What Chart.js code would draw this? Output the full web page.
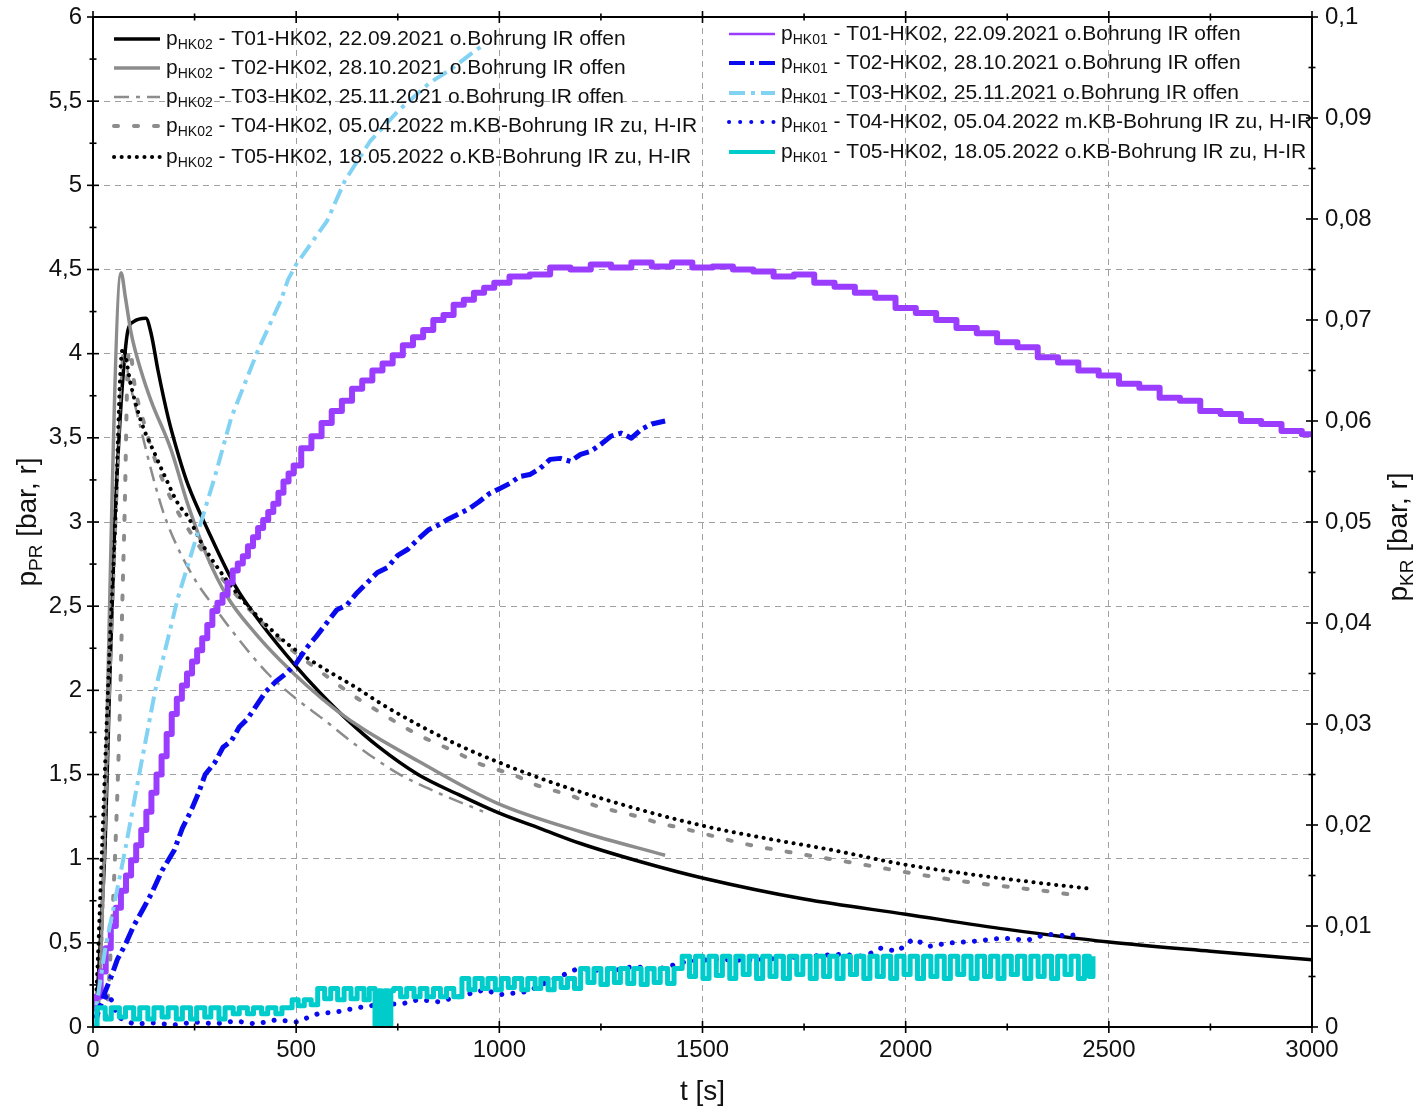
<!DOCTYPE html>
<html lang="de">
<head>
<meta charset="utf-8">
<title>Druckverlauf pHK01 / pHK02</title>
<script src="https://cdn.jsdelivr.net/npm/chart.js@4.4.1/dist/chart.umd.min.js"></script>
<style>
  html, body { margin: 0; padding: 0; background: #fff; }
  #chart { display: block; }
</style>
</head>
<body>
<canvas id="chart" width="1417" height="1111"></canvas>
<script>
// === Data: [t in s, p in bar] ===
// pHK02 -> left axis (p_PR)
const hk02T01 = [[0,0],[6,0.05],[20,0.6],[30,1.1],[40,1.95],[53,2.95],[64,3.5],[75,3.9],[86,4.14],[100,4.19],[130,4.21],[143,4.12],[160,3.9],[185,3.62],[210,3.4],[234,3.22],[283,2.95],[350,2.62],[413,2.4],[497,2.15],[561,1.98],[628,1.82],[700,1.67],[800,1.5],[900,1.38],[1000,1.27],[1100,1.18],[1200,1.09],[1350,0.98],[1500,0.885],[1750,0.76],[2000,0.67],[2250,0.58],[2500,0.505],[2750,0.45],[3000,0.4]];
const hk02T02 = [[0,0],[9,0.02],[69,4.48],[80,4.33],[94,4.12],[118,3.9],[143,3.72],[192,3.43],[234,3.1],[280,2.8],[332,2.55],[399,2.34],[460,2.18],[530,2.02],[600,1.88],[665,1.77],[800,1.58],[994,1.33],[1200,1.16],[1408,1.02]];
const hk02T03 = [[0,0],[12,0.05],[40,1.9],[60,3.2],[74,4.0],[91,3.82],[118,3.55],[153,3.22],[177,3.03],[210,2.84],[258,2.63],[300,2.49],[340,2.36],[430,2.1],[500,1.95],[566,1.83],[650,1.67],[748,1.51],[850,1.39],[960,1.28]];
const hk02T04 = [[0,0],[30,0],[34,0.08],[54,1.0],[66,1.87],[72,2.5],[78,3.07],[86,3.96],[92,4.02],[100,3.85],[130,3.55],[160,3.32],[200,3.1],[250,2.9],[300,2.72],[370,2.52],[460,2.3],[566,2.1],[652,1.95],[706,1.87],[760,1.79],[805,1.73],[896,1.63],[945,1.57],[994,1.53],[1043,1.49],[1088,1.44],[1181,1.37],[1231,1.32],[1290,1.28],[1341,1.25],[1395,1.21],[1452,1.18],[1501,1.15],[1600,1.09],[1711,1.04],[1809,1.0],[1907,0.96],[2023,0.91],[2158,0.86],[2264,0.83],[2368,0.8],[2424,0.78]];
const hk02T05 = [[0,0],[8,0.2],[22,1.05],[40,2.2],[54,2.95],[69,3.96],[75,4.03],[79,4.0],[91,3.84],[118,3.6],[153,3.4],[177,3.27],[209,3.11],[234,3.03],[266,2.88],[315,2.7],[374,2.52],[430,2.38],[487,2.26],[561,2.14],[645,2.02],[723,1.9],[886,1.69],[1001,1.57],[1157,1.43],[1363,1.28],[1511,1.19],[1658,1.12],[1822,1.05],[1986,0.97],[2151,0.91],[2314,0.86],[2459,0.82]];

// pHK01 -> right axis (p_KR)
const hk01T01 = [[0,0],[12.5,0.003],[25,0.0055],[37.5,0.0078],[50,0.01],[62.5,0.0118],[75,0.0135],[87.5,0.015],[100,0.0165],[112.5,0.018],[125,0.0195],[137.5,0.0213],[150,0.0232],[162.5,0.025],[175,0.0268],[187.5,0.029],[200,0.031],[212.5,0.0325],[225,0.0338],[237.5,0.035],[250,0.0362],[262.5,0.0373],[275,0.0385],[287.5,0.0398],[300,0.0412],[312.5,0.042],[325,0.0428],[337.5,0.044],[350,0.0452],[362.5,0.0459],[375,0.0466],[387.5,0.0476],[400,0.0485],[412.5,0.0494],[425,0.0502],[437.5,0.051],[450,0.0518],[462.5,0.0529],[475,0.054],[487.5,0.0548],[500,0.0556],[525,0.0573],[550,0.0585],[575,0.0598],[600,0.061],[625,0.062],[650,0.0632],[675,0.064],[700,0.065],[725,0.0657],[750,0.0665],[775,0.0675],[800,0.0683],[825,0.069],[850,0.07],[875,0.0705],[900,0.0715],[925,0.072],[950,0.0727],[975,0.0732],[1000,0.0737],[1050,0.0743],[1100,0.0745],[1150,0.0752],[1200,0.075],[1250,0.0755],[1300,0.0752],[1350,0.0757],[1400,0.0753],[1450,0.0757],[1500,0.0752],[1550,0.0753],[1600,0.075],[1650,0.0748],[1700,0.0743],[1750,0.0745],[1800,0.0737],[1850,0.0733],[1900,0.0727],[1950,0.0722],[2000,0.0712],[2050,0.0707],[2100,0.07],[2150,0.0692],[2200,0.0687],[2250,0.0678],[2300,0.0673],[2350,0.0663],[2400,0.0658],[2450,0.065],[2500,0.0645],[2550,0.0637],[2600,0.0633],[2650,0.0623],[2700,0.062],[2750,0.061],[2800,0.0607],[2850,0.06],[2900,0.0597],[2950,0.059],[3000,0.0587]];
const hk01T02 = [[0,0],[15,0.0017],[30,0.0035],[45,0.005],[60,0.0067],[80,0.0082],[100,0.01],[125,0.0118],[145,0.0133],[170,0.0155],[200,0.0175],[220,0.0197],[240,0.0213],[260,0.0232],[276,0.025],[300,0.0262],[320,0.0277],[340,0.0283],[360,0.0297],[380,0.0305],[400,0.0317],[425,0.0332],[450,0.0342],[475,0.035],[500,0.036],[525,0.0375],[550,0.0387],[575,0.04],[600,0.0413],[625,0.0418],[650,0.043],[675,0.044],[700,0.045],[725,0.0455],[750,0.0467],[775,0.0473],[800,0.0483],[825,0.0492],[850,0.0497],[875,0.0503],[900,0.0508],[925,0.0513],[950,0.052],[975,0.0528],[1000,0.0533],[1025,0.0538],[1050,0.0545],[1075,0.0547],[1100,0.0553],[1125,0.0562],[1150,0.0563],[1175,0.056],[1200,0.0567],[1225,0.057],[1250,0.0577],[1275,0.0585],[1300,0.0588],[1325,0.0583],[1350,0.0592],[1375,0.0597],[1408,0.06]];
const hk01T03 = [[0,0],[30,0.0077],[79,0.0175],[116,0.0255],[153,0.0333],[209,0.0425],[266,0.05],[300,0.0545],[340,0.0603],[406,0.067],[463,0.072],[480,0.074],[500,0.0755],[576,0.0798],[620,0.0838],[682,0.0877],[751,0.0907],[829,0.0935],[880,0.0948],[935,0.0965],[960,0.0972]];
const hk01T04 = [[0,0],[20,0.0025],[40,0.0033],[60,0.001],[100,0.0003],[150,0.0004],[200,0.0002],[250,0.0005],[300,0.0003],[350,0.0006],[400,0.0003],[450,0.0007],[500,0.0005],[553,0.0013],[600,0.0015],[650,0.0019],[700,0.0022],[761,0.0023],[800,0.0027],[850,0.0025],[900,0.003],[965,0.0037],[1000,0.0032],[1070,0.0035],[1120,0.0045],[1194,0.0058],[1272,0.0055],[1330,0.006],[1388,0.0057],[1462,0.0065],[1526,0.0067],[1600,0.0066],[1691,0.0068],[1760,0.007],[1839,0.0072],[1900,0.007],[1937,0.0078],[1980,0.0075],[2018,0.0087],[2060,0.008],[2102,0.0083],[2170,0.0085],[2240,0.0088],[2300,0.0086],[2348,0.0092],[2400,0.009],[2437,0.0093]];
const hk01T05 = [[0,0],[10,0.0019],[30,0.0008],[45,0.0019],[65,0.001],[80,0.0019],[100,0.0008],[115,0.0019],[135,0.0008],[150,0.0019],[170,0.001],[185,0.0019],[205,0.0008],[220,0.0019],[240,0.0008],[255,0.0019],[275,0.001],[290,0.0019],[310,0.0008],[325,0.0019],[345,0.0013],[360,0.0019],[380,0.0013],[395,0.0019],[415,0.0013],[430,0.0019],[450,0.0013],[465,0.0019],
  [490,0.0027],[505,0.0021],[520,0.0027],[537,0.0022],
  [553,0.0038],[570,0.0028],[585,0.0038],[602,0.0027],[618,0.0038],[635,0.0028],[650,0.0038],[667,0.0027],[680,0.0038],
  [694,0.0002],[703,0.0036],[710,0.0002],[718,0.0036],[726,0.0002],[733,0.0036],
  [740,0.0038],[757,0.003],[772,0.0038],[790,0.003],[805,0.0038],[822,0.003],[838,0.0038],[855,0.003],[870,0.0038],[888,0.003],
  [908,0.0048],[925,0.0037],[940,0.0048],[958,0.0038],[972,0.0048],[990,0.0037],[1005,0.0048],[1022,0.0039],[1037,0.0048],[1055,0.0037],[1070,0.0048],[1088,0.0038],[1102,0.0048],[1120,0.0037],[1135,0.0048],[1152,0.0039],[1168,0.0048],[1185,0.0038],
  [1200,0.0058],[1218,0.0044],[1233,0.0058],[1250,0.0042],[1266,0.0058],[1283,0.0044],[1298,0.0058],[1316,0.0043],[1331,0.0058],[1349,0.0042],[1364,0.0058],[1381,0.0044],[1396,0.0058],[1414,0.0043],[1430,0.0058],
  [1450,0.007],[1468,0.005],[1483,0.007],[1501,0.0048],[1516,0.007],[1534,0.0051],[1549,0.007],[1567,0.0048],[1582,0.007],[1600,0.0052],[1615,0.007],[1633,0.0048],[1648,0.007],[1666,0.005],[1681,0.007],[1699,0.0048],[1714,0.007],[1732,0.0052],[1747,0.007],[1765,0.0048],[1780,0.007],[1798,0.005],[1813,0.007],[1831,0.0048],[1846,0.007],[1864,0.0052],[1879,0.007],[1897,0.0048],[1912,0.007],[1930,0.005],[1945,0.007],[1963,0.0048],[1978,0.007],[1996,0.0052],
  [2011,0.007],[2029,0.0048],[2044,0.007],[2062,0.005],[2077,0.007],[2095,0.0048],[2110,0.007],[2128,0.0052],[2143,0.007],[2161,0.0048],[2176,0.007],[2194,0.005],[2209,0.007],[2227,0.0048],[2242,0.007],[2260,0.0052],[2275,0.007],[2293,0.0048],[2308,0.007],[2326,0.005],[2341,0.007],[2359,0.0048],[2374,0.007],[2392,0.0052],[2407,0.007],[2425,0.0048],[2440,0.007],[2452,0.005],[2461,0.007]];

// Legend texts
const testNames = [
  "T01-HK02, 22.09.2021 o.Bohrung IR offen",
  "T02-HK02, 28.10.2021 o.Bohrung IR offen",
  "T03-HK02, 25.11.2021 o.Bohrung IR offen",
  "T04-HK02, 05.04.2022 m.KB-Bohrung IR zu, H-IR",
  "T05-HK02, 18.05.2022 o.KB-Bohrung IR zu, H-IR",
];

const FONT = "'Liberation Sans', Arial, sans-serif";

function toXY(pairs) {
  return pairs.map(([x, y]) => ({ x, y }));
}

// === Build datasets ===
function series(pairs, sub, idx, axis, style) {
  return Object.assign({
    label: testNames[idx],
    sub: sub,
    data: toXY(pairs),
    yAxisID: axis,
    pointRadius: 0,
    fill: false,
    borderCapStyle: "butt",
    borderJoinStyle: "round",
  }, style);
}

const datasets = [
  // HK01 first so the HK02 curves sit on top
  series(hk01T05, "HK01", 4, "y2", { borderColor: "#00cccc", borderWidth: 5, stepped: true }),
  series(hk01T04, "HK01", 3, "y2", { borderColor: "#0a0aee", borderWidth: 5, borderDash: [0.1, 11], borderCapStyle: "round" }),
  series(hk01T03, "HK01", 2, "y2", { borderColor: "#82d2f4", borderWidth: 4, borderDash: [16, 6, 4, 6] }),
  series(hk01T02, "HK01", 1, "y2", { borderColor: "#0a0aee", borderWidth: 5, borderDash: [16, 5, 4, 5] }),
  series(hk01T01, "HK01", 0, "y2", { borderColor: "#9b3dff", borderWidth: 6, stepped: "middle", legendWidth: 2.5 }),
  series(hk02T05, "HK02", 4, "y", { borderColor: "#000", borderWidth: 4, borderDash: [0.1, 7.5], borderCapStyle: "round", cubicInterpolationMode: "monotone" }),
  series(hk02T04, "HK02", 3, "y", { borderColor: "#8c8c8c", borderWidth: 4, borderDash: [4, 16], borderCapStyle: "round", cubicInterpolationMode: "monotone" }),
  series(hk02T03, "HK02", 2, "y", { borderColor: "#8c8c8c", borderWidth: 2.5, borderDash: [15, 7, 4, 7], cubicInterpolationMode: "monotone" }),
  series(hk02T02, "HK02", 1, "y", { borderColor: "#8c8c8c", borderWidth: 3.5, cubicInterpolationMode: "monotone" }),
  series(hk02T01, "HK02", 0, "y", { borderColor: "#000", borderWidth: 3.5, cubicInterpolationMode: "monotone" }),
];

const fmt = (v) => String(+Number(v).toFixed(3)).replace(".", ",");

// === Text with subscript: p_sub rest ===
function subText(ctx, x, y, sub, rest, size, subSize) {
  ctx.font = `${size}px ${FONT}`;
  ctx.fillText("p", x, y);
  let w = ctx.measureText("p").width;
  ctx.font = `${subSize}px ${FONT}`;
  ctx.fillText(sub, x + w, y + size * 0.3);
  w += ctx.measureText(sub).width;
  ctx.font = `${size}px ${FONT}`;
  ctx.fillText(rest, x + w, y);
  return w + ctx.measureText(rest).width;
}
function subWidth(ctx, sub, rest, size, subSize) {
  ctx.font = `${size}px ${FONT}`;
  let w = ctx.measureText("p").width + ctx.measureText(rest).width;
  ctx.font = `${subSize}px ${FONT}`;
  return w + ctx.measureText(sub).width;
}

// === Frame, ticks, titles, legend ===
const decor = {
  id: "decor",
  afterDraw(chart) {
    const { ctx, chartArea: a, scales } = chart;
    ctx.save();
    ctx.strokeStyle = "#000";
    ctx.fillStyle = "#111";
    ctx.setLineDash([]);
    ctx.lineWidth = 2;
    ctx.strokeRect(a.left, a.top, a.right - a.left, a.bottom - a.top);

    const tick = (x1, y1, x2, y2) => {
      ctx.beginPath();
      ctx.moveTo(x1, y1);
      ctx.lineTo(x2, y2);
      ctx.stroke();
    };
    ctx.lineWidth = 1.6;
    for (let t = 0; t <= 3000; t += 250) {
      const px = scales.x.getPixelForValue(t);
      const len = t % 500 === 0 ? 6 : 3.5;
      tick(px, a.bottom - len, px, a.bottom + len);
      tick(px, a.top - len, px, a.top + len);
    }
    for (let i = 0; i <= 24; i++) {
      const py = scales.y.getPixelForValue(i * 0.25);
      const len = i % 2 === 0 ? 6 : 3.5;
      tick(a.left - len, py, a.left + len, py);
    }
    for (let i = 0; i <= 20; i++) {
      const py = scales.y2.getPixelForValue(i * 0.005);
      const len = i % 2 === 0 ? 6 : 3.5;
      tick(a.right - len, py, a.right + len, py);
    }

    // axis titles
    ctx.textBaseline = "middle";
    ctx.textAlign = "left";
    ctx.font = `28px ${FONT}`;
    const tw = ctx.measureText("t [s]").width;
    ctx.fillText("t [s]", (a.left + a.right) / 2 - tw / 2, 1092);

    const vTitle = (cx, cy, sub) => {
      ctx.save();
      ctx.translate(cx, cy);
      ctx.rotate(-Math.PI / 2);
      const w = subWidth(ctx, sub, " [bar, r]", 28, 19);
      subText(ctx, -w / 2, 0, sub, " [bar, r]", 28, 19);
      ctx.restore();
    };
    vTitle(28, 522, "PR");
    vTitle(1399, 537, "KR");

    // legend
    const drawSample = (ds, x1, x2, y) => {
      ctx.save();
      ctx.strokeStyle = ds.borderColor;
      ctx.lineWidth = ds.legendWidth || Math.min(ds.borderWidth, 4);
      ctx.lineCap = ds.borderCapStyle || "butt";
      ctx.setLineDash(ds.borderDash || []);
      tick(x1, y, x2, y);
      ctx.restore();
    };
    const hk02 = datasets.filter((d) => d.sub === "HK02").reverse();
    const hk01 = datasets.filter((d) => d.sub === "HK01").reverse();
    const rowsL = [39, 68, 97, 126, 157];
    const rowsR = [34, 63, 93, 122, 152];
    hk02.forEach((ds, i) => {
      drawSample(ds, 114, 160, rowsL[i]);
      subText(ctx, 166, rowsL[i], ds.sub, " - " + ds.label, 21, 14);
    });
    hk01.forEach((ds, i) => {
      drawSample(ds, 729, 775, rowsR[i]);
      subText(ctx, 781, rowsR[i], ds.sub, " - " + ds.label, 21, 14);
    });
    ctx.restore();
  },
};

const gridStyle = { color: "#a0a0a0", lineWidth: 1, drawTicks: false };

// fixed axis sizes so the plot area matches the original frame
const fixVertical = (w) => (s) => {
  s.width = w;
  s.paddingTop = 0;
  s.paddingBottom = 0;
};

new Chart(document.getElementById("chart"), {
  type: "line",
  data: { datasets },
  options: {
    responsive: false,
    animation: false,
    devicePixelRatio: 1,
    events: [],
    layout: { padding: { top: 17, left: 0, right: 0, bottom: 0 } },
    plugins: { legend: { display: false }, tooltip: { enabled: false } },
    scales: {
      x: {
        type: "linear",
        min: 0,
        max: 3000,
        ticks: { stepSize: 500, autoSkip: false, maxRotation: 0, padding: 9, color: "#111", font: { size: 24, family: FONT }, callback: (v) => String(v) },
        grid: gridStyle,
        border: { display: false, dash: [6, 5] },
        afterFit: (s) => { s.height = 84; },
      },
      y: {
        position: "left",
        min: 0,
        max: 6,
        ticks: { stepSize: 0.5, padding: 11, color: "#111", font: { size: 24, family: FONT }, callback: fmt },
        grid: gridStyle,
        border: { display: false, dash: [6, 5] },
        afterFit: fixVertical(93),
      },
      y2: {
        position: "right",
        min: 0,
        max: 0.1,
        ticks: { stepSize: 0.01, padding: 13, color: "#111", font: { size: 24, family: FONT }, callback: fmt },
        grid: { display: false, drawTicks: false },
        border: { display: false },
        afterFit: fixVertical(105),
      },
    },
  },
  plugins: [decor],
});
</script>
</body>
</html>
